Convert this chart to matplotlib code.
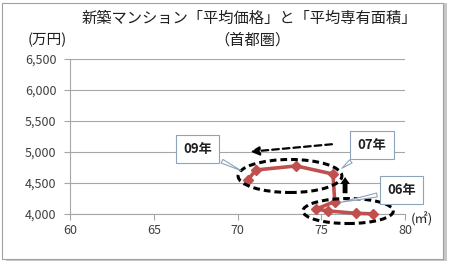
import matplotlib
matplotlib.use("Agg")
import matplotlib.pyplot as plt
from matplotlib.patches import Ellipse, Rectangle

plt.rcParams['font.family'] = ['Noto Sans CJK JP', 'DejaVu Sans']

# average floor area (m2) and average price (10k yen), in time order
area = [78.1, 77.1, 75.4, 74.7, 75.8, 75.7, 73.5, 71.1, 70.6]
price = [4003, 4010, 4050, 4080, 4200, 4644, 4775, 4710, 4548]

xticks = [60, 65, 70, 75, 80]
yticks = [4000, 4500, 5000, 5500, 6000, 6500]
ytick_labels = ['4,000', '4,500', '5,000', '5,500', '6,000', '6,500']

line_color = '#C0504D'
box_edge = '#8FA3BC'

fig = plt.figure(figsize=(4.5, 2.68), dpi=100)

# outer frame with shadow
fig.patches.append(Rectangle((0.013, 0.025), 0.98, 0.965, transform=fig.transFigure,
                             facecolor='#C8C8C8', edgecolor='none', zorder=-2))
fig.patches.append(Rectangle((0.005, 0.035), 0.98, 0.955, transform=fig.transFigure,
                             facecolor='white', edgecolor='#A0A0A0', lw=0.8, zorder=-1))

ax = fig.add_axes([0.156, 0.2015, 0.744, 0.5785])
ax.set_xlim(60, 80)
ax.set_ylim(4000, 6500)
ax.set_xticks(xticks)
ax.set_yticks(yticks)
ax.set_yticklabels(ytick_labels)
ax.grid(axis='y', color='#A6A6A6', lw=0.8)
ax.set_axisbelow(True)
for s in ['top', 'right']:
    ax.spines[s].set_visible(False)
ax.spines['left'].set_color('#A6A6A6')
ax.spines['bottom'].set_color('#A6A6A6')
ax.tick_params(axis='both', colors='#A6A6A6', labelcolor='#404040', labelsize=9,
               length=4, width=0.8, direction='out')
ax.tick_params(axis='y', pad=6)

ax.plot(area, price, color=line_color, lw=2.6, marker='D', ms=5.5,
        markeredgecolor=line_color, zorder=3, clip_on=False)

# dashed ellipses
ax.add_patch(Ellipse((73.13, 4613), 6.2, 532, fill=False, ls=(0, (2.2, 1.3)),
                     lw=2.2, ec='black', zorder=4))
ax.add_patch(Ellipse((76.6, 4048), 5.4, 403, fill=False, ls=(0, (2.2, 1.3)),
                     lw=2.2, ec='black', zorder=4, clip_on=False))

# dashed leftward arrow
ax.annotate('', xy=(70.6, 5000), xytext=(75.8, 5129),
            arrowprops=dict(arrowstyle='-|>,head_length=0.5,head_width=0.25',
                            ls=(0, (3, 1.8)), lw=1.6, color='black'))

# thick up arrow
ax.annotate('', xy=(76.42, 4640), xytext=(76.42, 4290),
            arrowprops=dict(arrowstyle='simple,head_length=0.5,head_width=0.7,tail_width=0.35',
                            color='black', lw=0))

# callouts
callouts = [('09年', (67.6, 5048), (70.35, 4680)),
            ('07年', (78.03, 5113), (76.1, 4710)),
            ('06年', (79.8, 4387), (76.0, 4180))]
for label, pos, target in callouts:
    ax.annotate(label, xy=target, xytext=pos, ha='center', va='center',
                fontsize=9.5, fontweight='bold', color='#202020',
                bbox=dict(boxstyle='square,pad=0.55', fc='white', ec=box_edge, lw=0.8),
                arrowprops=dict(arrowstyle='wedge,tail_width=0.3', fc='white',
                                ec=box_edge, lw=0.8),
                annotation_clip=False, zorder=5)

fig.text(0.553, 0.932, '新築マンション「平均価格」と「平均専有面積」', ha='center',
         va='center', fontsize=11, color='#202020')
fig.text(0.56, 0.85, '（首都圏）', ha='center', va='center', fontsize=11, color='#202020')
fig.text(0.105, 0.85, '(万円)', ha='center', va='center', fontsize=10.5, color='#202020')
fig.text(0.937, 0.183, '(㎡)', ha='center', va='center', fontsize=9.5, color='#202020')

fig.savefig('out.png', dpi=100)
